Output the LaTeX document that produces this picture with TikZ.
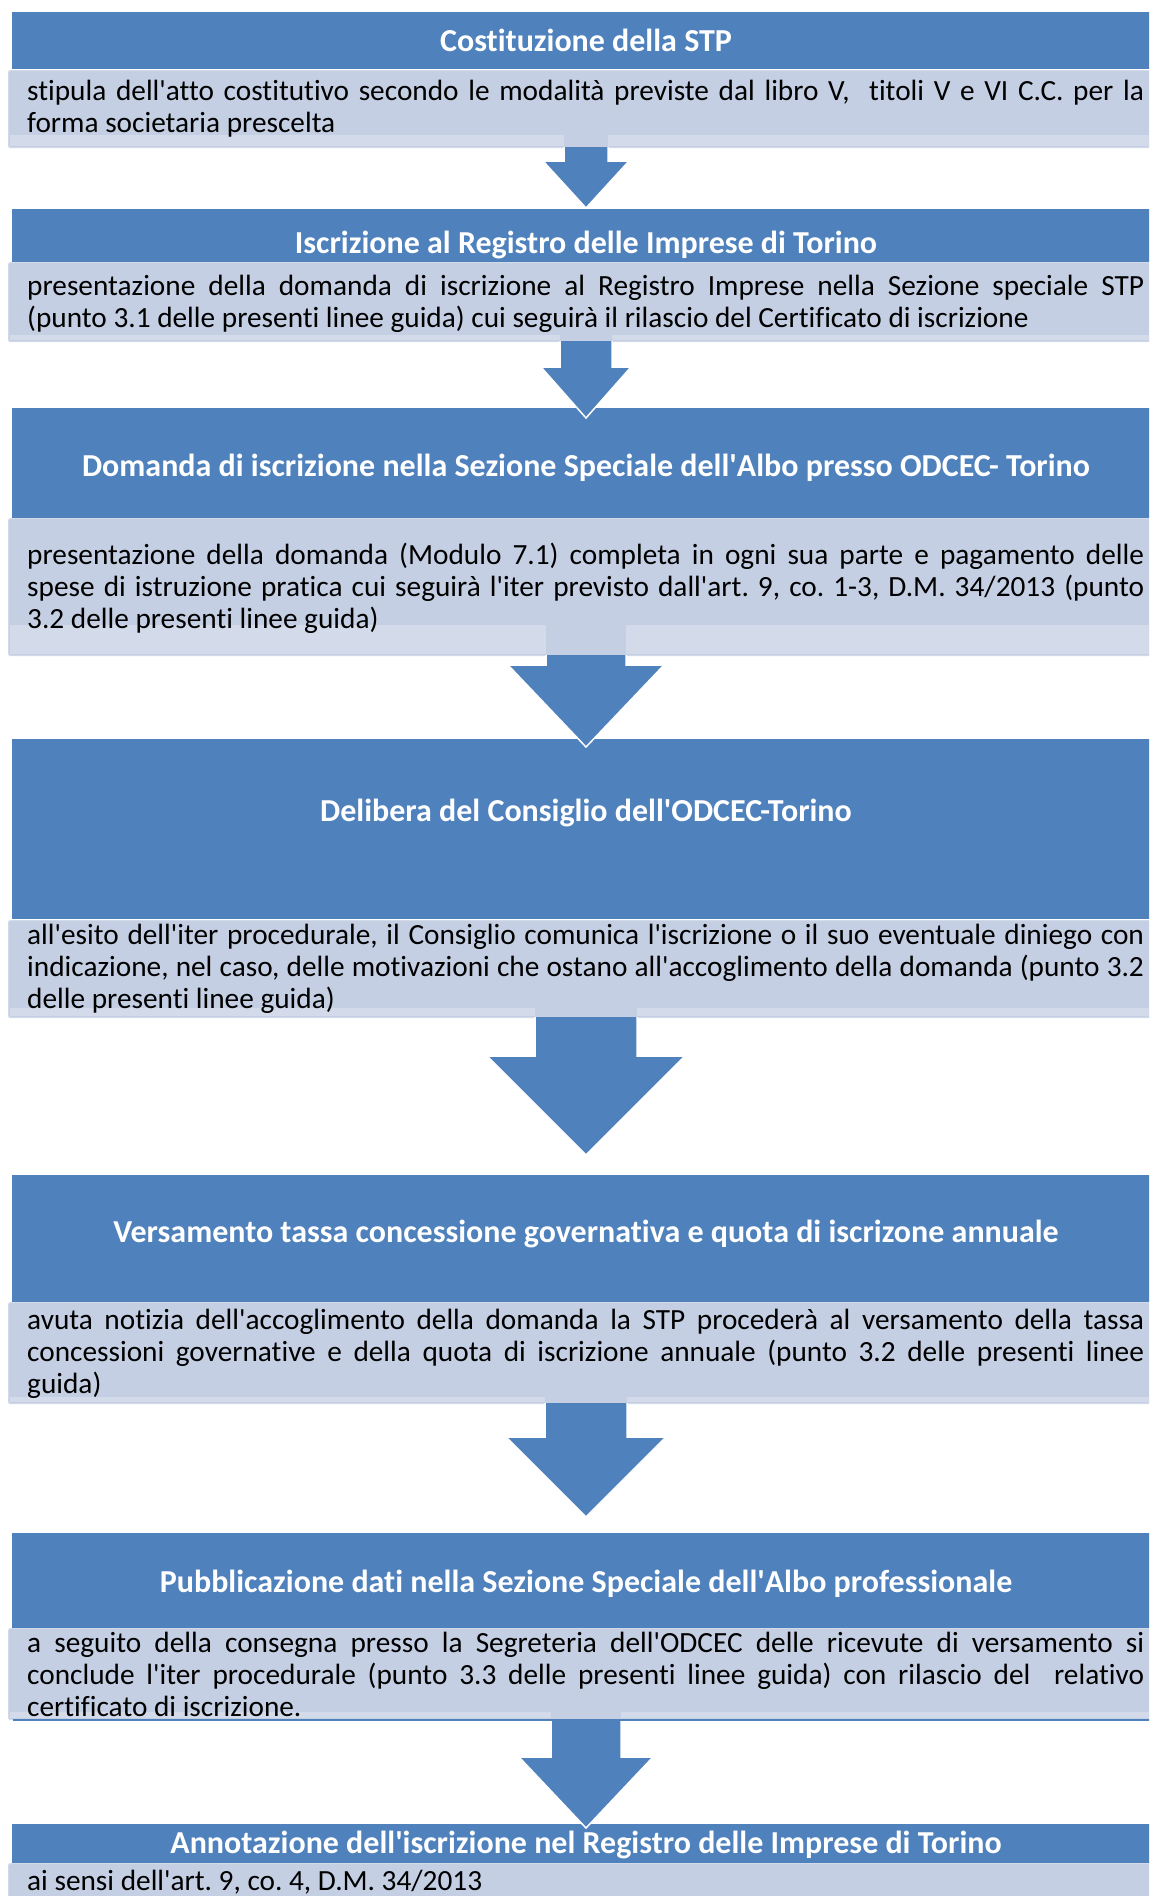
\documentclass[tikz,border=0pt]{standalone}
\usepackage{fontspec}
\setmainfont{Carlito}[Ligatures={NoCommon}]
\frenchspacing
\definecolor{accent}{HTML}{4F81BD}
\definecolor{lightbox}{HTML}{C4CFE3}
\definecolor{lightstrip}{HTML}{D3DAEA}
\definecolor{lightedge}{HTML}{D2DAE9}
\newcommand{\ap}{\textquotesingle}
% block arrow: #1 name, #2 stem top, #3 head top, #4 tip, #5 stem half width, #6 head half width
\newcommand{\blockarrow}[6]{%
  \coordinate (#1top) at (586,#2);
  \coordinate (#1tip) at (586,#4);
  \fill[accent] (586-#5,#2) -- (586-#5,#3) -- (586-#6,#3) -- (#1tip) -- (586+#6,#3) -- (586+#5,#3) -- (586+#5,#2) -- cycle;
  \draw[white,line width=1.5pt,line join=miter] (586-#5,#2) -- (586-#5,#3) -- (586-#6,#3) -- (#1tip) -- (586+#6,#3) -- (586+#5,#3) -- (586+#5,#2);
}
% strip at the bottom of a light box: #1 top y, #2 bottom y, #3 stem half width
\newcommand{\lightstrip}[3]{%
  \fill[lightstrip] (10,#1) rectangle (586-#3,#2);
  \fill[lightstrip] (586+#3,#1) rectangle (1160,#2);
}
\begin{document}
\begin{tikzpicture}[x=1pt,y=-1pt,
  header/.style={fill=accent,draw=none,inner sep=0pt,anchor=north west,minimum width=1150pt},
  panel/.style={fill=lightbox,draw=lightedge,line width=1.2pt,rounded corners=2pt,inner sep=0pt,anchor=north west,minimum width=1160pt},
  title/.style={text=white,font=\fontsize{32}{38}\selectfont\bfseries,inner sep=0pt,anchor=base},
  body/.style={text=black,font=\fontsize{29.3}{32}\selectfont,text width=1117pt,align=justify,inner sep=0pt,anchor=base west},
]
\useasboundingbox (0,0) rectangle (1149,1896);
\fill[white] (0,0) rectangle (1149,1896);
\clip (0,0) rectangle (1149,1896);

% ---- step 1
\node[header,minimum height=57pt] (h1) at (12,12) {};
\node[panel,minimum height=77pt] (l1) at (8,70) {};
\lightstrip{135}{146.4}{22}
\node[title] (t1) at (586,51) {Costituzione della STP};
\node[body] (d1) at (27,100) {stipula dell\ap atto costitutivo secondo le modalità previste dal libro V,\ \ titoli V e VI C.C. per la\linebreak forma societaria prescelta};

% ---- step 2
\node[header,minimum height=53pt] (h2) at (12,209) {};
\node[panel,minimum height=79pt] (l2) at (8,262) {};
\lightstrip{335}{340.4}{26}
\node[title] (t2) at (586,253) {Iscrizione al Registro delle Imprese di Torino};
\node[body] (d2) at (27,295) {presentazione della domanda di iscrizione al Registro Imprese nella Sezione speciale STP\linebreak (punto 3.1 delle presenti linee guida) cui seguirà il rilascio del Certificato di iscrizione};

% ---- step 3
\node[header,minimum height=110pt] (h3) at (12,408) {};
\node[panel,minimum height=137pt] (l3) at (8,518) {};
\lightstrip{625}{654.4}{40}
\node[title] (t3) at (586,476) {Domanda di iscrizione nella Sezione Speciale dell\ap Albo presso ODCEC- Torino};
\node[body] (d3) at (27,564) {presentazione della domanda (Modulo 7.1) completa in ogni sua parte e pagamento delle\linebreak spese di istruzione pratica cui seguirà l\ap iter previsto dall\ap art. 9, co. 1-3, D.M. 34/2013 (punto\linebreak 3.2 delle presenti linee guida)};

% ---- step 4
\node[header,minimum height=180pt] (h4) at (12,739) {};
\node[panel,minimum height=97pt] (l4) at (8,920) {};
\lightstrip{1008}{1016.4}{51}
\node[title] (t4) at (586,821) {Delibera del Consiglio dell\ap ODCEC-Torino};
\node[body] (d4) at (27,944) {all\ap esito dell\ap iter procedurale, il Consiglio comunica l\ap iscrizione o il suo eventuale diniego con\linebreak indicazione, nel caso, delle motivazioni che ostano all\ap accoglimento della domanda (punto 3.2\linebreak delle presenti linee guida)};

% ---- step 5
\node[header,minimum height=127pt] (h5) at (12,1175) {};
\node[panel,minimum height=101pt] (l5) at (8,1302) {};
\lightstrip{1397}{1402.4}{41}
\node[title] (t5) at (586,1242) {Versamento tassa concessione governativa e quota di iscrizone annuale};
\node[body] (d5) at (27,1329) {avuta notizia dell\ap accoglimento della domanda la STP procederà al versamento della tassa\linebreak concessioni governative e della quota di iscrizione annuale (punto 3.2 delle presenti linee\linebreak guida)};

% ---- step 6
\node[header,minimum height=95pt] (h6) at (12,1533) {};
\node[panel,minimum height=91pt] (l6) at (8,1628) {};
\lightstrip{1712}{1718.4}{35}
\draw[accent,line width=2pt] (13,1720) -- (1160,1720);
\node[title] (t6) at (586,1592) {Pubblicazione dati nella Sezione Speciale dell\ap Albo professionale};
\node[body] (d6) at (27,1652) {a seguito della consegna presso la Segreteria dell\ap ODCEC delle ricevute di versamento si\linebreak conclude l\ap iter procedurale (punto 3.3 delle presenti linee guida) con rilascio del\ \ relativo\linebreak certificato di iscrizione.};

% ---- step 7
\node[header,minimum height=39pt] (h7) at (12,1824) {};
\node[panel,minimum height=60pt] (l7) at (8,1863) {};
\node[title] (t7) at (586,1853) {Annotazione dell\ap iscrizione nel Registro delle Imprese di Torino};
\node[body] (d7) at (27,1890) {ai sensi dell\ap art. 9, co. 4, D.M. 34/2013};

% ---- arrows between the steps
\blockarrow{a1}{147}{161}{208}{22}{43}
\blockarrow{a2}{341}{367}{418}{26}{45}
\blockarrow{a3}{655}{665}{747}{40}{78}
\blockarrow{a4}{1017}{1056}{1155}{51}{99}
\blockarrow{a5}{1403}{1437}{1517}{41}{80}
\blockarrow{a6}{1721}{1757}{1828}{35}{67}
\end{tikzpicture}
\end{document}
